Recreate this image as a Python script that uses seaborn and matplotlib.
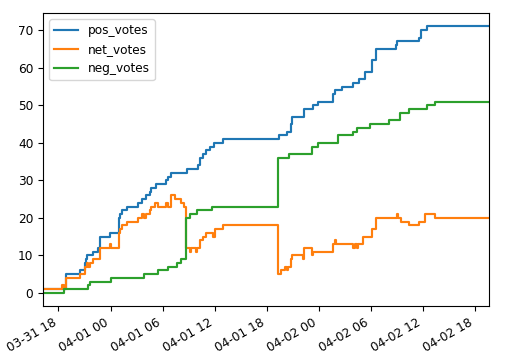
import pandas as pd
import seaborn as sns
import matplotlib
matplotlib.use("Agg")
import matplotlib.pyplot as plt
import matplotlib.dates as mdates

YEAR = "2018"

# change points of each series (value holds until the next time)
pos_times = ["03-31 16:14", "03-31 18:50", "03-31 20:27", "03-31 21:02", "03-31 21:09", "03-31 21:16",
             "03-31 21:57", "03-31 22:32", "03-31 22:50", "03-31 23:55", "04-01 00:59", "04-01 01:04",
             "04-01 01:16", "04-01 01:52", "04-01 03:08", "04-01 03:34", "04-01 04:08", "04-01 04:31",
             "04-01 04:43", "04-01 05:17", "04-01 06:22", "04-01 06:35", "04-01 07:01", "04-01 08:50",
             "04-01 10:05", "04-01 10:17", "04-01 10:37", "04-01 11:03", "04-01 11:26", "04-01 11:56",
             "04-01 12:54", "04-01 19:25", "04-01 20:16", "04-01 20:46", "04-01 20:53", "04-01 22:16",
             "04-01 23:18", "04-01 23:55", "04-02 01:36", "04-02 01:50", "04-02 02:36", "04-02 03:55",
             "04-02 04:36", "04-02 05:17", "04-02 06:05", "04-02 06:31", "04-02 08:52", "04-02 08:59",
             "04-02 11:31", "04-02 11:45", "04-02 12:28", "04-02 19:34"]
pos_values = [1, 5, 6, 8, 9, 10, 11, 12, 15, 16, 20, 21, 22, 23, 24, 25, 26, 27, 28, 29,
              30, 31, 32, 33, 34, 36, 37, 38, 39, 40, 41, 42, 43, 45, 47, 49, 50, 51, 53, 54,
              55, 56, 57, 59, 62, 65, 66, 67, 68, 70, 71, 71]

net_times = ["03-31 16:14", "03-31 18:23", "03-31 18:37", "03-31 18:50", "03-31 20:27", "03-31 21:02",
             "03-31 21:16", "03-31 21:23", "03-31 21:36", "03-31 21:57", "03-31 22:50", "03-31 23:55",
             "04-01 00:02", "04-01 00:59", "04-01 01:04", "04-01 01:16", "04-01 01:52", "04-01 03:08",
             "04-01 03:34", "04-01 03:50", "04-01 04:08", "04-01 04:31", "04-01 04:43", "04-01 05:05",
             "04-01 05:26", "04-01 06:22", "04-01 06:35", "04-01 07:01", "04-01 07:24", "04-01 08:10",
             "04-01 08:25", "04-01 08:38", "04-01 09:08", "04-01 09:15", "04-01 09:49", "04-01 09:55",
             "04-01 10:17", "04-01 10:37", "04-01 11:03", "04-01 11:45", "04-01 12:01", "04-01 12:58",
             "04-01 19:20", "04-01 19:41", "04-01 20:04", "04-01 20:16", "04-01 20:25", "04-01 20:46",
             "04-01 20:53", "04-01 22:07", "04-01 22:16", "04-01 23:09", "04-01 23:18", "04-02 01:36",
             "04-02 01:50", "04-02 02:00", "04-02 03:55", "04-02 04:08", "04-02 04:22", "04-02 04:30",
             "04-02 05:04", "04-02 06:05", "04-02 06:31", "04-02 08:59", "04-02 09:05", "04-02 09:24",
             "04-02 10:21", "04-02 11:31", "04-02 12:12", "04-02 13:21", "04-02 19:34"]
net_values = [1, 2, 1, 4, 5, 7, 8, 7, 8, 9, 12, 13, 12, 16, 17, 18, 19, 20, 21, 20,
              21, 22, 23, 24, 23, 24, 23, 26, 25, 24, 23, 12, 11, 12, 11, 12, 14, 15, 16, 15,
              17, 18, 5, 6, 7, 6, 7, 9, 10, 9, 12, 10, 11, 13, 14, 13, 12, 13, 12, 13,
              15, 17, 20, 21, 20, 19, 18, 19, 21, 20, 20]

neg_times = ["03-31 16:14", "03-31 18:37", "03-31 21:23", "03-31 21:36", "04-01 00:02", "04-01 03:50",
             "04-01 05:26", "04-01 06:35", "04-01 07:36", "04-01 08:10", "04-01 08:38", "04-01 09:08",
             "04-01 09:54", "04-01 11:38", "04-01 19:20", "04-01 20:34", "04-01 23:09", "04-01 23:55",
             "04-02 02:11", "04-02 03:55", "04-02 04:22", "04-02 05:52", "04-02 08:03", "04-02 09:19",
             "04-02 10:21", "04-02 12:28", "04-02 13:21", "04-02 19:34"]
neg_values = [0, 1, 2, 3, 4, 5, 6, 7, 8, 9, 20, 21, 22, 23, 36, 37, 39, 40, 42, 43,
              44, 45, 46, 48, 49, 50, 51, 51]

series = [("pos_votes", pos_times, pos_values, "#1f77b4"),
          ("net_votes", net_times, net_values, "#ff7f0e"),
          ("neg_votes", neg_times, neg_values, "#2ca02c")]

plt.rcParams["font.size"] = 8.7

fig, ax = plt.subplots(figsize=(5.19, 3.56), dpi=100)

for name, times, values, color in series:
    t = pd.to_datetime([f"{YEAR}-{s}" for s in times])
    sns.lineplot(x=t, y=values, ax=ax, estimator=None, sort=False, color=color,
                 linewidth=1.55, drawstyle="steps-post", label=name)

start = pd.to_datetime(f"{YEAR}-{pos_times[0]}")
end = pd.to_datetime(f"{YEAR}-{pos_times[-1]}")
ax.set_xlim(start, end)
ax.xaxis.set_major_locator(mdates.HourLocator(byhour=[0, 6, 12, 18]))
ax.xaxis.set_major_formatter(mdates.DateFormatter("%m-%d %H"))
ax.set_xlabel("")
ax.set_ylabel("")
ax.legend(loc="upper left")

for lbl in ax.get_xticklabels():
    lbl.set_rotation(30)
    lbl.set_ha("right")

fig.subplots_adjust(left=0.083, right=0.942, top=0.963, bottom=0.140)
fig.savefig("out.png", dpi=100)
